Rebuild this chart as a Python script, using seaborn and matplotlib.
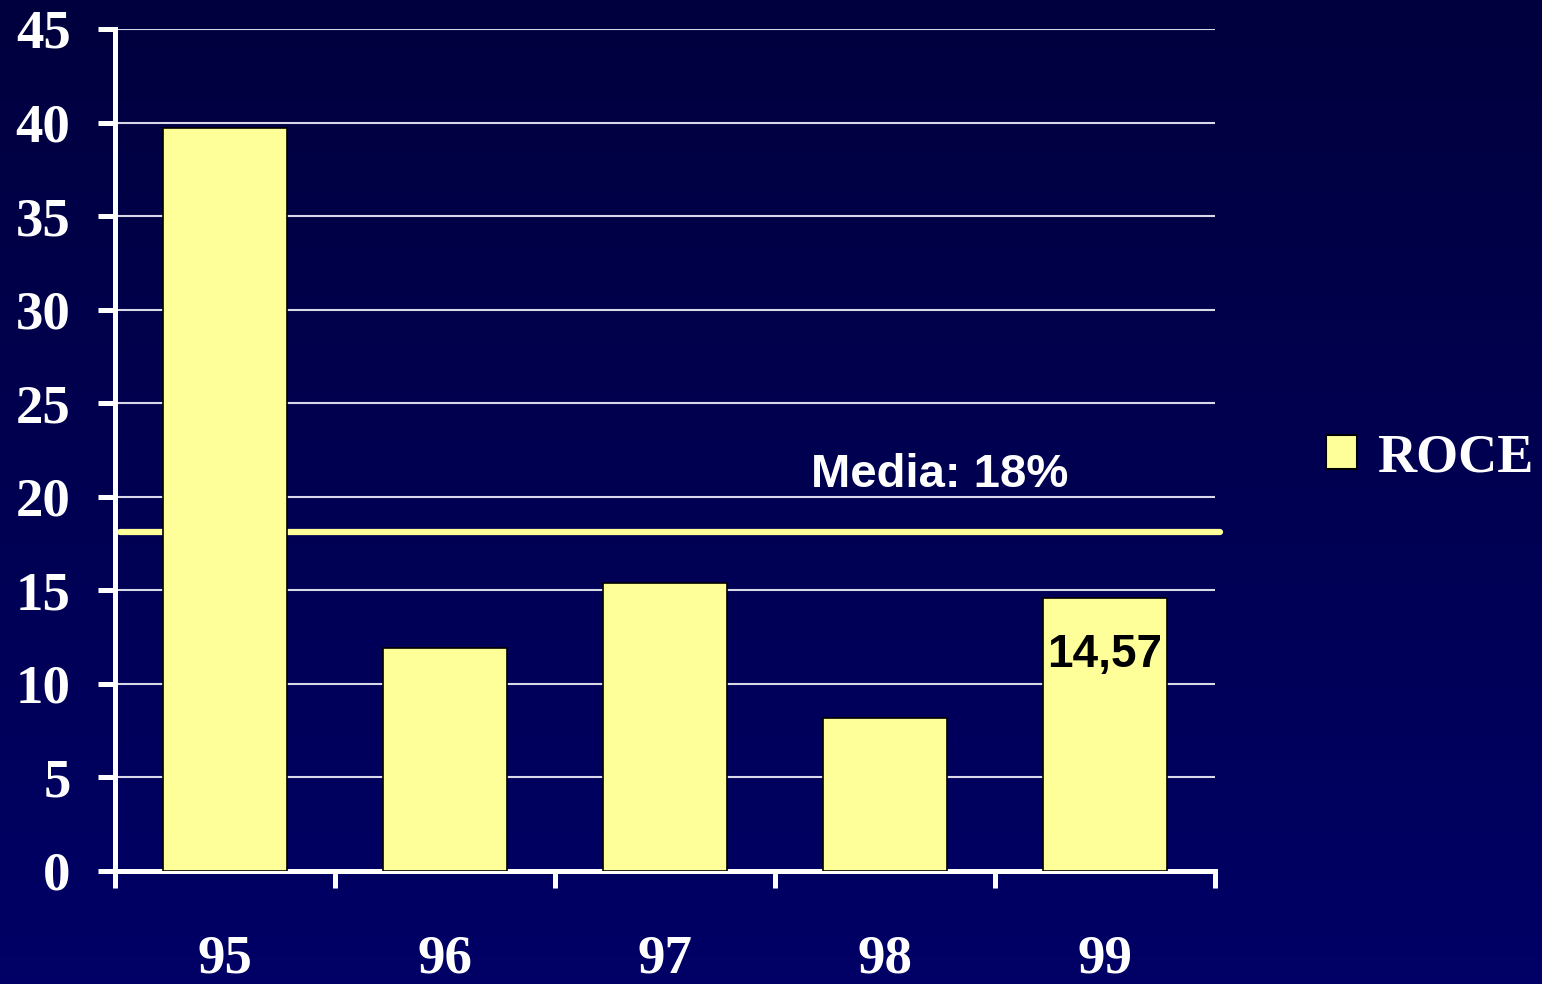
import matplotlib
matplotlib.use('Agg')
import matplotlib.pyplot as plt
import seaborn as sns
import numpy as np
import pandas as pd
from matplotlib.patches import Patch
from matplotlib.colors import LinearSegmentedColormap

# ---- data ----
years = ['95', '96', '97', '98', '99']
roce = [39.7, 11.9, 15.4, 8.2, 14.57]
mean_value = 18.1
mean_label = 'Media: 18%'
value_label = '14,57'
yticks = [0, 5, 10, 15, 20, 25, 30, 35, 40, 45]
series_name = 'ROCE'

BAR = '#FFFF99'

sns.set_style('white')
plt.rcParams['font.family'] = ['Liberation Serif', 'DejaVu Serif']
plt.rcParams['font.weight'] = 'bold'

fig = plt.figure(figsize=(15.42, 9.84), dpi=100)

# gradient background
bg = fig.add_axes([0, 0, 1, 1], zorder=-10)
grad = np.linspace(0, 1, 256).reshape(-1, 1)
cmap = LinearSegmentedColormap.from_list('bg', ['#00003E', '#000066'])
bg.imshow(grad, aspect='auto', cmap=cmap, extent=[0, 1, 0, 1], origin='upper')
bg.axis('off')

ax = fig.add_axes([115 / 1542, 1 - 871 / 984, 1100 / 1542, 842 / 984])
ax.set_facecolor('none')

df = pd.DataFrame({'year': years, 'roce': roce})
sns.barplot(data=df, x='year', y='roce', color=BAR, saturation=1,
            edgecolor='black', linewidth=1.2, width=0.56, ax=ax, zorder=3)

ax.set_xlim(-0.5, 4.5)
ax.set_ylim(0, 45)
ax.set_yticks(yticks)
ax.set_xlabel('')
ax.set_ylabel('')

ax.set_axisbelow(True)
ax.yaxis.grid(True, color='#D8D8E8', linewidth=1.5)
ax.xaxis.grid(False)

for s in ['top', 'right']:
    ax.spines[s].set_visible(False)
for s in ['left', 'bottom']:
    ax.spines[s].set_color('white')
    ax.spines[s].set_linewidth(3.6)

ax.tick_params(axis='y', direction='out', length=12, width=3.6, color='white',
               labelcolor='white', labelsize=39.5, pad=20, left=True)
ax.set_xticks(np.arange(-0.5, 5, 1), minor=True)
ax.tick_params(axis='x', which='major', length=0, labelcolor='white',
               labelsize=39.5, pad=46, bottom=True)
ax.tick_params(axis='x', which='minor', direction='out', length=12, width=3.6,
               color='white', bottom=True)
for lab in ax.get_xticklabels() + ax.get_yticklabels():
    lab.set_fontweight('bold')

# mean line
ax.axhline(mean_value, xmin=5 / 1100, xmax=1105 / 1100, color=BAR, lw=4.5,
           solid_capstyle='round', clip_on=False, zorder=2)
ax.text(3.25, 20.52, mean_label, color='white', fontsize=34, fontweight='bold',
        family=['Liberation Sans', 'DejaVu Sans'], ha='center', va='baseline', zorder=5)

# value label
ax.text(4, roce[4] - 3.05, value_label, color='black', fontsize=33, fontweight='bold',
        family=['Liberation Sans', 'DejaVu Sans'], ha='center', va='center', zorder=5)

# legend
handle = Patch(facecolor=BAR, edgecolor='black', linewidth=1.5)
leg = fig.legend([handle], [series_name], loc='center left',
                 bbox_to_anchor=(1326 / 1542, 1 - 458 / 984),
                 bbox_transform=fig.transFigure, frameon=False,
                 borderpad=0, borderaxespad=0, handlelength=0.58, handleheight=0.58,
                 handletextpad=0.37,
                 prop={'family': 'Liberation Serif', 'weight': 'bold', 'size': 39})
for t in leg.get_texts():
    t.set_color('white')

fig.savefig('out.png', dpi=100)
